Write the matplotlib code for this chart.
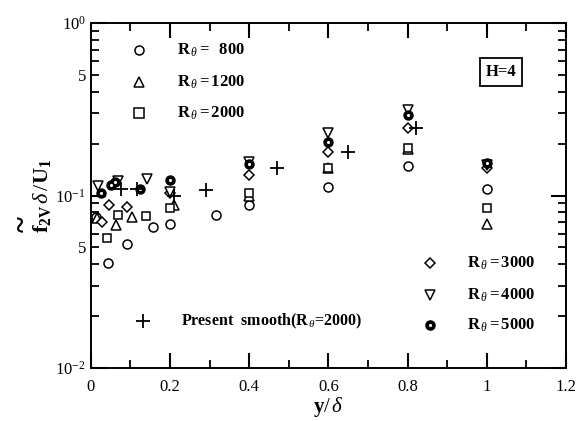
import matplotlib
matplotlib.use("Agg")
import matplotlib.pyplot as plt
import numpy as np
from matplotlib.ticker import FixedLocator, FixedFormatter, MultipleLocator

plt.rcParams['font.family'] = ['Liberation Serif', 'DejaVu Serif']
plt.rcParams['mathtext.fontset'] = 'custom'
plt.rcParams['mathtext.rm'] = 'Liberation Serif'
plt.rcParams['mathtext.it'] = 'Liberation Serif:italic'
plt.rcParams['mathtext.bf'] = 'Liberation Serif:bold'

# data
x_800 = [0.012, 0.043, 0.091, 0.157, 0.2, 0.316, 0.4, 0.6, 0.8, 1.0]
y_800 = [0.0755, 0.0406, 0.0523, 0.0657, 0.0684, 0.0771, 0.088, 0.112, 0.148, 0.109]

x_1200 = [0.015, 0.063, 0.104, 0.21, 0.4, 0.6, 0.8, 1.0]
y_1200 = [0.074, 0.0675, 0.0755, 0.088, 0.100, 0.144, 0.185, 0.0684]

x_2000 = [0.040, 0.068, 0.139, 0.2, 0.4, 0.6, 0.8, 1.0]
y_2000 = [0.0567, 0.077, 0.076, 0.0847, 0.103, 0.144, 0.188, 0.0846]

x_3000 = [0.028, 0.045, 0.091, 0.2, 0.4, 0.6, 0.8, 1.0]
y_3000 = [0.0704, 0.088, 0.0855, 0.103, 0.131, 0.179, 0.246, 0.144]

x_4000 = [0.018, 0.068, 0.141, 0.2, 0.4, 0.6, 0.8, 1.0]
y_4000 = [0.113, 0.121, 0.125, 0.105, 0.156, 0.230, 0.313, 0.150]

x_5000 = [0.025, 0.05, 0.06, 0.124, 0.2, 0.4, 0.6, 0.8, 1.0]
y_5000 = [0.103, 0.115, 0.12, 0.109, 0.123, 0.152, 0.204, 0.292, 0.154]

x_smooth = [0.076, 0.117, 0.21, 0.29, 0.47, 0.649, 0.821]
y_smooth = [0.109, 0.109, 0.100, 0.107, 0.144, 0.179, 0.245]

xticks = [0, 0.2, 0.4, 0.6, 0.8, 1.0, 1.2]
xtick_labels = ["0", "0.2", "0.4", "0.6", "0.8", "1", "1.2"]

fig = plt.figure(figsize=(5.86, 4.21), dpi=100)
ax = fig.add_axes([0.155, 0.126, 0.811, 0.819])

ms = 6.5
kw = dict(linestyle="", color="black", mfc="white", mew=1.1, ms=ms)
ax.plot(x_800, y_800, marker="o", **kw)
ax.plot(x_1200, y_1200, marker="^", **kw)
ax.plot(x_2000, y_2000, marker="s", **dict(kw, ms=6))
ax.plot(x_3000, y_3000, marker="D", **dict(kw, ms=5.5))
ax.plot(x_4000, y_4000, marker="v", **kw)
ax.plot(x_5000, y_5000, marker="o", linestyle="", color="black", mfc="black", ms=ms)
ax.plot(x_5000, y_5000, marker=".", linestyle="", color="white", ms=2.5)
ax.plot(x_smooth, y_smooth, marker="+", linestyle="", color="black", ms=10, mew=1.3)

ax.set_yscale("log")
ax.set_xlim(0, 1.2)
ax.set_ylim(1e-2, 1)

ax.xaxis.set_major_locator(FixedLocator(xticks))
ax.xaxis.set_major_formatter(FixedFormatter(xtick_labels))
ax.xaxis.set_minor_locator(MultipleLocator(0.1))

ax.yaxis.set_major_locator(FixedLocator([1e-2, 1e-1, 1]))
ax.yaxis.set_major_formatter(FixedFormatter([r"$10^{-2}$", r"$10^{-1}$", r"$10^{0}$"]))
minor = [k * 10.0 ** e for e in (-2, -1) for k in range(2, 10)]
ax.yaxis.set_minor_locator(FixedLocator(minor))
ax.yaxis.set_minor_formatter(FixedFormatter(["5" if k == 5 else "" for e in (-2, -1) for k in range(2, 10)]))

ax.tick_params(which="both", direction="in", top=True, right=True, left=True, bottom=True,
               labelsize=12, color="black")
ax.tick_params(which="major", length=11, width=1.5)
ax.tick_params(which="minor", length=6, width=1.3)
ax.tick_params(axis="x", pad=8)
for s in ax.spines.values():
    s.set_linewidth(1.4)

ax.set_xlabel(r"$\mathbf{y}/\,\delta$", fontsize=15, labelpad=0)
ax.set_ylabel(r"$\mathbf{f}_{\mathbf{2V}}\,\delta\,/\mathbf{U}_{\mathbf{1}}$", fontsize=16, labelpad=2)
# the tilde over f (rotated with the label)
fig.text(23 / 586, 1 - 224 / 421, "~", rotation=90, fontsize=22, fontweight="bold",
         ha="center", va="center")

# legend drawn by hand, as in the figure
tr = ax.transAxes
def lx(px):
    return (px - 91) / 475.0
def ly(py):
    return (368 - py) / 345.0

legend_rows = [
    ("o", "white", r"$\mathbf{R}_{\,\theta}$$\mathbf{=\ \ 800}$", 139, 177, 50),
    ("^", "white", r"$\mathbf{R}_{\,\theta}$$\mathbf{=1200}$", 139, 177, 82),
    ("s", "white", r"$\mathbf{R}_{\,\theta}$$\mathbf{=2000}$", 139, 177, 113),
    ("D", "white", r"$\mathbf{R}_{\,\theta}$$\mathbf{=3000}$", 430, 467, 263),
    ("v", "white", r"$\mathbf{R}_{\,\theta}$$\mathbf{=4000}$", 430, 467, 295),
    ("o", "black", r"$\mathbf{R}_{\,\theta}$$\mathbf{=5000}$", 430, 467, 325),
]
for mk, fc, lab, mx, tx, py in legend_rows:
    size = 5.5 if mk == "D" else 6.5
    ax.plot([lx(mx)], [ly(py)], marker=mk, color="black", mfc=fc, mew=1.1, ms=size,
            transform=tr, clip_on=False, linestyle="")
    if fc == "black":
        ax.plot([lx(mx)], [ly(py)], marker=".", color="white", ms=2.5, transform=tr, linestyle="")
    ax.text(lx(tx), ly(py), lab, transform=tr, fontsize=12, va="center", ha="left")

ax.plot([lx(143)], [ly(321)], marker="+", color="black", ms=10, mew=1.3, transform=tr, linestyle="")
ax.text(lx(181), ly(321), r"Present  smooth(R$_{\,\theta}$=2000)", transform=tr,
        fontsize=11.5, fontweight="bold", va="center", ha="left")

ax.text(lx(501), ly(72), "H=4", transform=tr, fontsize=12, fontweight="bold", va="center", ha="center",
        bbox=dict(boxstyle="square,pad=0.35", fc="white", ec="black", lw=1.3))

fig.savefig("out.png", dpi=100)
